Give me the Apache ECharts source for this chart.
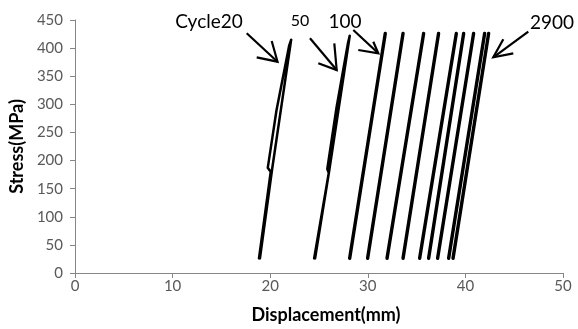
<!DOCTYPE html>
<html>
<head>
<meta charset="utf-8">
<script src="https://cdn.jsdelivr.net/npm/echarts@6/dist/echarts.min.js"></script>
<style>
  html, body { margin: 0; padding: 0; background: #fff; }
  #chart { width: 578px; height: 329px; }
</style>
</head>
<body>
<div id="chart"></div>
<script>
// loops: [displacement mm, stress MPa]
var loop20 = [[18.95, 26], [20.2, 185], [22.15, 415], [21.95, 405], [20.65, 290], [19.75, 187], [20.05, 180], [18.85, 26]];
var loop50 = [[24.6, 26], [26.05, 182], [28.15, 422], [27.98, 410], [26.8, 295], [25.85, 185], [26.0, 178], [24.5, 26]];

// later cycles look like single thick strokes
var laterBottomX = [28.14, 29.98, 31.97, 33.61, 35.31, 36.23, 37.15, 38.28, 38.73];
var laterTopX = [31.79, 33.61, 35.72, 37.25, 39.07, 39.82, 40.84, 41.97, 42.38];
var laterBottomY = [26, 26, 26, 26, 26, 26, 26, 26, 26];
var laterTopY = [426, 426, 426, 426, 426, 426, 426, 426, 426];

var cycleLabels = ['Cycle20', '50', '100', '2900'];
var yTicks = [0, 450, 50];
var xTicks = [0, 50, 10];

var font = 'Lato, "Noto Sans", sans-serif';

var series = [];
function addLoop(points, width) {
  series.push({
    type: 'line',
    data: points,
    showSymbol: false,
    symbol: 'none',
    silent: true,
    lineStyle: { color: '#000', width: width, cap: 'round', join: 'round' }
  });
}
addLoop(loop20, 2.5);
addLoop(loop50, 2.5);
for (var i = 0; i < laterBottomX.length; i++) {
  addLoop([[laterBottomX[i], laterBottomY[i]], [laterTopX[i], laterTopY[i]]], 3.4);
}

// annotation arrows (pixel positions)
var arrows = [
  { from: [246.7, 33.3], tip: [277.5, 61.7], b1: [256.7, 57.3], b2: [271.7, 41] },
  { from: [310, 38.3], tip: [336.7, 70], b1: [318.3, 63.3], b2: [334.3, 43.3] },
  { from: [353.3, 30], tip: [378.3, 53.3], b1: [358.3, 50], b2: [373.3, 41.7] },
  { from: [528.3, 31.7], tip: [493.3, 57.3], b1: [513.3, 53.3], b2: [503.3, 39.3] }
];
var labelPos = [[209, 22, 19], [300, 21, 16], [345, 22, 19], [552, 23, 19]];

var graphic = [];
arrows.forEach(function (a) {
  graphic.push({
    type: 'polyline', shape: { points: [a.from, a.tip] },
    style: { stroke: '#000', lineWidth: 2.2, fill: null }, z: 100
  });
  graphic.push({
    type: 'polyline', shape: { points: [a.b1, a.tip, a.b2] },
    style: { stroke: '#000', lineWidth: 2.2, fill: null }, z: 100
  });
});
cycleLabels.forEach(function (t, k) {
  graphic.push({
    type: 'text', x: labelPos[k][0], y: labelPos[k][1], z: 100,
    style: {
      text: t, fill: '#000', font: labelPos[k][2] + 'px ' + font,
      textAlign: 'center', textVerticalAlign: 'middle'
    }
  });
});

var axisCommon = {
  axisLine: { show: true, lineStyle: { color: '#868686', width: 1 } },
  axisTick: { show: true, length: 5, lineStyle: { color: '#868686' } },
  splitLine: { show: false },
  axisLabel: { color: '#595959', fontSize: 15, fontFamily: font },
  nameTextStyle: { color: '#000', fontWeight: 'bold', fontSize: 18, fontFamily: font }
};

var option = {
  animation: false,
  backgroundColor: '#fff',
  grid: { left: 75, right: 15, top: 20, bottom: 54 },
  xAxis: Object.assign({}, axisCommon, {
    type: 'value', min: xTicks[0], max: xTicks[1], interval: xTicks[2],
    name: 'Displacement(mm)', nameLocation: 'middle', nameGap: 33,
    nameTextStyle: Object.assign({}, axisCommon.nameTextStyle, { padding: [0, 0, 0, 14] }),
    axisLabel: Object.assign({}, axisCommon.axisLabel, { margin: 6 })
  }),
  yAxis: Object.assign({}, axisCommon, {
    type: 'value', min: yTicks[0], max: yTicks[1], interval: yTicks[2],
    name: 'Stress(MPa)', nameLocation: 'middle', nameGap: 48,
    axisLabel: Object.assign({}, axisCommon.axisLabel, { margin: 12 })
  }),
  series: series,
  graphic: graphic
};

var chart = echarts.init(document.getElementById('chart'), null, { renderer: 'canvas' });
chart.setOption(option);
</script>
</body>
</html>
